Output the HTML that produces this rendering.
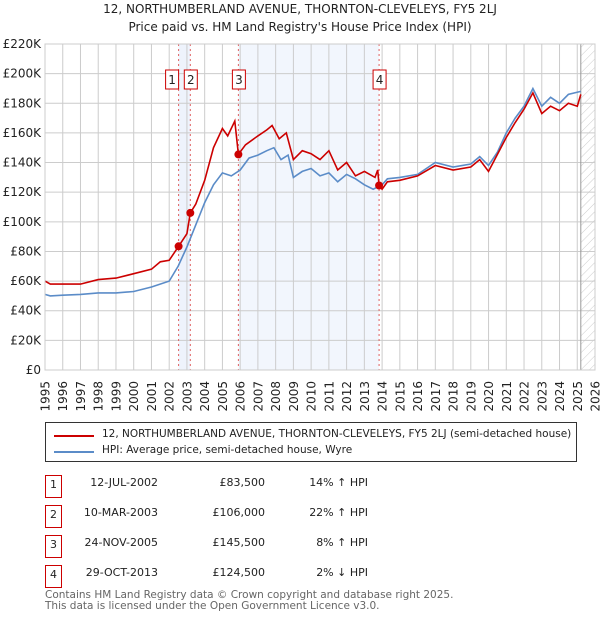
<!DOCTYPE html>
<html><head><meta charset="utf-8"><style>
body{margin:0;background:#fff;font-family:"DejaVu Sans","Liberation Sans",sans-serif;color:#222}
#wrap{position:relative;width:600px;height:620px;overflow:hidden}
.t{position:absolute;font-size:12px;white-space:nowrap}
</style></head><body><div id="wrap">
<div class="t" style="left:0;width:600px;text-align:center;top:2px;font-size:12px">12, NORTHUMBERLAND AVENUE, THORNTON-CLEVELEYS, FY5 2LJ</div>
<div class="t" style="left:0;width:600px;text-align:center;top:20px;font-size:12px">Price paid vs. HM Land Registry's House Price Index (HPI)</div>
<svg id="chart" width="600" height="420" style="position:absolute;left:0;top:0;font-family:'DejaVu Sans',sans-serif"></svg>
<div style="position:absolute;left:45px;top:422px;width:532px;height:40px;border:1px solid #333;box-sizing:border-box">
<div style="position:absolute;left:8px;top:12px;width:40px;height:2px;background:#cc0000"></div>
<div class="t" style="left:56px;top:5px;font-size:10.5px">12, NORTHUMBERLAND AVENUE, THORNTON-CLEVELEYS, FY5 2LJ (semi-detached house)</div>
<div style="position:absolute;left:8px;top:28px;width:40px;height:2px;background:#5b8cc8"></div>
<div class="t" style="left:56px;top:21px;font-size:10.5px">HPI: Average price, semi-detached house, Wyre</div>
</div>
<div id="tbl"></div>
<div class="t" style="left:45px;top:590px;font-size:10.5px;line-height:11px;color:#666">Contains HM Land Registry data © Crown copyright and database right 2025.<br>This data is licensed under the Open Government Licence v3.0.</div>
</div>
<script>
const hpiYears=[1995,1995.3,1996,1997,1998,1999,2000,2001,2002,2002.5,2003,2004,2004.5,2005,2005.5,2006,2006.5,2007,2007.5,2007.9,2008.3,2008.7,2009,2009.5,2010,2010.5,2011,2011.5,2012,2012.5,2013,2013.5,2014,2014.3,2015,2016,2017,2018,2019,2019.5,2020,2020.5,2021,2021.5,2022,2022.5,2023,2023.5,2024,2024.5,2025.2];
const hpiValues=[51,50,50.5,51,52,52,53,56,60,70,83,113,125,133,131,135,143,145,148,150,142,145,130,134,136,131,133,127,132,129,125,122,125,129,130,132,140,137,139,144,138,147,160,170,178,190,178,184,180,186,188];
const ppYears=[1995,1995.3,1996,1997,1998,1999,2000,2001,2001.5,2002,2002.53,2003,2003.19,2003.5,2004,2004.5,2005,2005.3,2005.7,2005.9,2006.3,2007,2007.5,2007.8,2008.2,2008.6,2009,2009.5,2010,2010.5,2011,2011.5,2012,2012.5,2013,2013.6,2013.75,2013.83,2014,2014.3,2015,2016,2017,2018,2019,2019.5,2020,2020.3,2021,2021.5,2022,2022.5,2023,2023.5,2024,2024.5,2025,2025.2];
const ppValues=[60,58,58,58,61,62,65,68,73,74,83.5,92,106,112,128,150,163,158,168,145.5,152,158,162,165,156,160,142,148,146,142,148,135,140,131,134,130,135,124.5,122,127,128,131,138,135,137,142,134,141,157,167,176,187,173,178,175,180,178,186];
const saleIds=["1","2","3","4"];
const saleYears=[2002.53,2003.19,2005.9,2013.83];
const saleValues=[83.5,106,145.5,124.5];
const saleDates=["12-JUL-2002","10-MAR-2003","24-NOV-2005","29-OCT-2013"];
const salePrices=["£83,500","£106,000","£145,500","£124,500"];
const saleHpi=["14% ↑ HPI","22% ↑ HPI","8% ↑ HPI","2% ↓ HPI"];
const yTicks=[0,20,40,60,80,100,120,140,160,180,200,220];
const xTicks=[1995,1996,1997,1998,1999,2000,2001,2002,2003,2004,2005,2006,2007,2008,2009,2010,2011,2012,2013,2014,2015,2016,2017,2018,2019,2020,2021,2022,2023,2024,2025,2026];
const hatchStart=2025.2;
const L=45,R=595,T=44,B=370;
const x=v=>L+(v-1995)/(2026-1995)*(R-L);
const y=v=>B-v/220*(B-T);
const svg=document.getElementById('chart');const NS='http://www.w3.org/2000/svg';
function mk(t,a,p){const e=document.createElementNS(NS,t);for(const k in a)e.setAttribute(k,a[k]);(p||svg).appendChild(e);return e;}
svg.innerHTML='<defs><pattern id="hatch" width="6" height="6" patternUnits="userSpaceOnUse" patternTransform="rotate(45)"><line x1="0" y1="0" x2="0" y2="6" stroke="#ccc" stroke-width="1"/></pattern></defs>';
let r=mk('rect',{x:x(saleYears[0]),y:T,width:x(saleYears[1])-x(saleYears[0]),height:B-T,fill:'#eef3fc'});

r=mk('rect',{x:x(saleYears[2]),y:T,width:x(saleYears[3])-x(saleYears[2]),height:B-T,fill:'#f2f6fd'});

r=mk('rect',{x:x(hatchStart),y:T,width:R-x(hatchStart),height:B-T,fill:'url(#hatch)'});

yTicks.forEach(v=>{mk('line',{x1:L,x2:R,y1:y(v),y2:y(v),stroke:'#ccc'});
 const t=mk('text',{x:L-4,y:y(v)+4,'text-anchor':'end','font-size':12,fill:'#222'});t.textContent=v===0?'£0':'£'+v+'K';
 });
xTicks.forEach(v=>{mk('line',{x1:x(v),x2:x(v),y1:T,y2:B,stroke:'#ccc'});
 const t=mk('text',{x:x(v)+4.5,y:B+11,'text-anchor':'end','font-size':12,fill:'#222',transform:`rotate(-90 ${x(v)+4.5} ${B+11})`});t.textContent=v;
 });
mk('line',{x1:x(hatchStart),x2:x(hatchStart),y1:T,y2:B,stroke:'#999'});
saleYears.forEach((v,i)=>{const l=mk('line',{x1:x(v),x2:x(v),y1:T,y2:B,stroke:'#e06060','stroke-dasharray':'2,3'});
 });
function path(xs,vs,c,n){const p=mk('path',{d:xs.map((a,i)=>(i?'L':'M')+x(a).toFixed(1)+','+y(vs[i]).toFixed(1)).join(''),fill:'none',stroke:c,'stroke-width':1.6});
 }
path(hpiYears,hpiValues,'#5b8cc8','hpi-line');
path(ppYears,ppValues,'#cc0000','price-paid-line');
saleYears.forEach((v,i)=>{const d=mk('circle',{cx:x(v),cy:y(saleValues[i]),r:4,fill:'#cc0000'});
 
 const bx=i===0?x(v)-13:x(v)-6;
 const g=mk('g',{});
 mk('rect',{x:bx,y:70,width:13,height:19,fill:'#fff',stroke:'#cc0000'},g);
 const t=mk('text',{x:bx+6.5,y:84,'text-anchor':'middle','font-size':12,fill:'#222'},g);t.textContent=saleIds[i];});
mk('rect',{x:L,y:T,width:R-L,height:B-T,fill:'none',stroke:'#ccc'});
const tbl=document.getElementById('tbl');
saleIds.forEach((id,i)=>{const top=475+i*30;
 const row=document.createElement('div');
 row.innerHTML=`<div style="position:absolute;left:45px;top:${top}px;width:15px;height:21px;border:1px solid #cc0000;font-size:11px;text-align:center;line-height:18px">${id}</div>
 <div class="t" style="left:60px;width:98px;text-align:right;top:${top+1}px;font-size:11px">${saleDates[i]}</div>
 <div class="t" style="left:165px;width:100px;text-align:right;top:${top+1}px;font-size:11px">${salePrices[i]}</div>
 <div class="t" style="left:268px;width:100px;text-align:right;top:${top+1}px;font-size:11px">${saleHpi[i]}</div>`;
 tbl.appendChild(row);});
</script></body></html>
